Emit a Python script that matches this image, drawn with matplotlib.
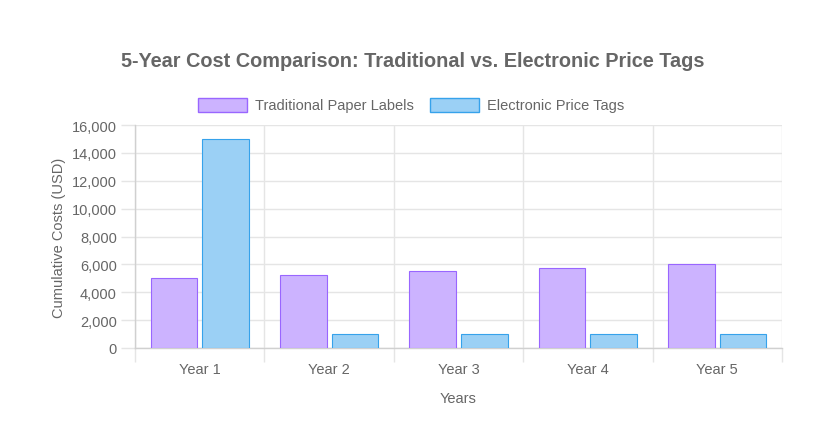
import matplotlib
matplotlib.use("Agg")
import matplotlib.pyplot as plt
import numpy as np
from matplotlib.patches import Rectangle

years = ["Year 1", "Year 2", "Year 3", "Year 4", "Year 5"]
traditional = [5000, 5250, 5500, 5750, 6000]
electronic = [15000, 1000, 1000, 1000, 1000]
series_names = ["Traditional Paper Labels", "Electronic Price Tags"]
y_ticks = [0, 2000, 4000, 6000, 8000, 10000, 12000, 14000, 16000]

plt.rcParams['font.family'] = ['Liberation Sans', 'DejaVu Sans']
TXT = '#666666'
GRID = '#e5e5e5'
fills = ['#ccb3ff', '#9bd0f5']
edges = ['#9966ff', '#36a2eb']

W, H = 815, 427
fig = plt.figure(figsize=(W / 100, H / 100), dpi=100)
ax = fig.add_axes([135 / W, 1 - 349 / H, (782 - 135) / W, (349 - 126) / H])

x = np.arange(len(years))
cat = 0.8
bw = cat / 2 * 0.9
for i, (vals, f, e) in enumerate(zip([traditional, electronic], fills, edges)):
    pos = x - cat / 4 + i * cat / 2
    ax.bar(pos, vals, width=bw, color=f, edgecolor=e, linewidth=0.8, zorder=3)

ax.set_xlim(-0.5, len(years) - 0.5)
ax.set_ylim(0, 16000)
ax.set_yticks(y_ticks)
ax.set_yticklabels([f"{v:,}" for v in y_ticks])
ax.set_xticks(x)
ax.set_xticklabels(years)
ax.set_xticks(np.arange(len(years) + 1) - 0.5, minor=True)
ax.tick_params(axis='x', which='major', length=0, pad=10, labelsize=10.5, colors=TXT)
ax.tick_params(axis='x', which='minor', length=10, color=GRID, width=1)
ax.tick_params(axis='y', length=10, color=GRID, width=1, pad=3, labelsize=10.5, labelcolor=TXT)
ax.grid(axis='y', color=GRID, linewidth=1, zorder=0)
ax.grid(axis='x', which='minor', color=GRID, linewidth=1, zorder=0)
for s in ['top', 'right']:
    ax.spines[s].set_visible(False)
for s in ['left', 'bottom']:
    ax.spines[s].set_color('#d0d0d0')
    ax.spines[s].set_linewidth(1)

ax.set_xlabel("Years", fontsize=10.5, color=TXT, labelpad=11)
ax.set_ylabel("Cumulative Costs (USD)", fontsize=10.5, color=TXT, labelpad=4)

fig.text(413 / W, 1 - 62 / H, "5-Year Cost Comparison: Traditional vs. Electronic Price Tags",
         ha='center', va='center', fontsize=14.3, fontweight='bold', color=TXT)

# legend
box_x = [198, 430]
txt_x = [255, 487]
for bx, tx, name, f, e in zip(box_x, txt_x, series_names, fills, edges):
    fig.patches.append(Rectangle((bx / W, 1 - 113 / H), 49 / W, 14 / H, transform=fig.transFigure,
                                 facecolor=f, edgecolor=e, linewidth=1))
    fig.text(tx / W, 1 - 106 / H, name, ha='left', va='center', fontsize=10.5, color=TXT)

fig.savefig("out.png", dpi=100)
